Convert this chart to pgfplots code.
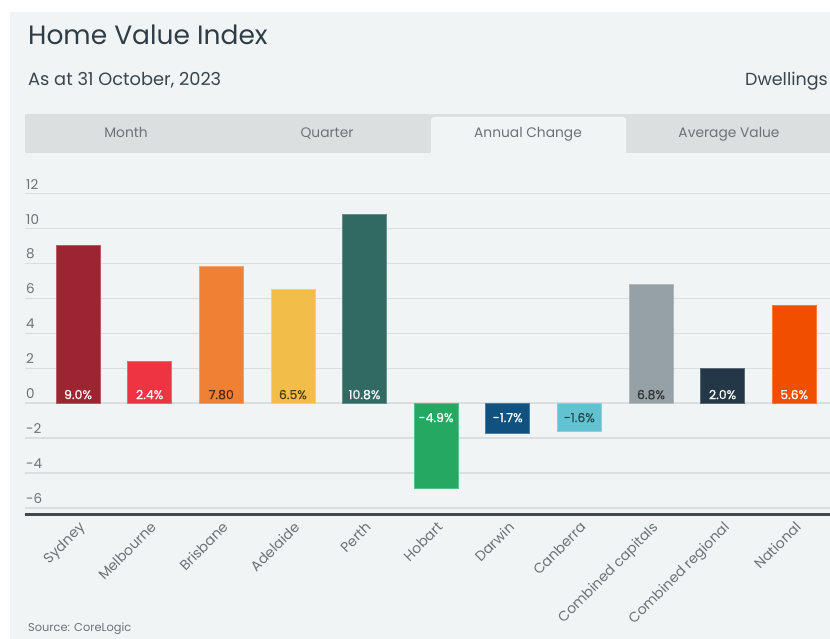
\documentclass[border=0pt]{standalone}
\usepackage{fontspec}
\setmainfont{Poppins}
\newfontfamily\pmed{Poppins}[FakeBold=0.7]
\usepackage{pgfplots}
\pgfplotsset{compat=1.18}
\definecolor{panel}{HTML}{F0F4F4}
\definecolor{tabgray}{HTML}{DCDFE0}
\definecolor{titlec}{HTML}{2E3D47}
\definecolor{subc}{HTML}{3A464C}
\definecolor{tickc}{HTML}{6B7378}
\definecolor{gridc}{HTML}{D9DFE1}
\definecolor{axisc}{HTML}{3E4A50}
\definecolor{c0}{HTML}{9B2632}
\definecolor{c1}{HTML}{EE3342}
\definecolor{c2}{HTML}{F08034}
\definecolor{c3}{HTML}{F2BE47}
\definecolor{c4}{HTML}{316A63}
\definecolor{c5}{HTML}{25A862}
\definecolor{c6}{HTML}{11517F}
\definecolor{c7}{HTML}{63C2D1}
\definecolor{c8}{HTML}{96A1A5}
\definecolor{c9}{HTML}{243746}
\definecolor{c10}{HTML}{F14E00}
\newcommand{\barlab}{\pmed\fontsize{12.5}{14}\selectfont}
\begin{document}
\begin{tikzpicture}
\useasboundingbox (0,0) rectangle (830pt,639pt);
\fill[white] (0,0) rectangle (830pt,639pt);
\fill[panel] (10pt,0) rectangle (830pt,627pt);
\node[anchor=base west, inner sep=0pt, font=\fontsize{26.5}{30}\selectfont, text=titlec] at (28pt,594pt) {Home Value Index};
\node[anchor=base west, inner sep=0pt, font=\fontsize{17.8}{20}\selectfont, text=subc] at (28pt,553pt) {As at 31 October, 2023};
\node[anchor=base east, inner sep=0pt, font=\fontsize{17.5}{20}\selectfont, text=subc] at (828pt,553pt) {Dwellings};
\fill[tabgray] (25pt,486pt) rectangle (830pt,525pt);
\fill[panel] (431pt,486pt) [rounded corners=3pt] -- (431pt,522pt) -- (626pt,522pt) [sharp corners] -- (626pt,486pt) -- cycle;
\foreach \xx/\tt in {126/Month,327/Quarter,528/Annual Change,729/Average Value}
  \node[anchor=base, inner sep=0pt, font=\fontsize{13.8}{16}\selectfont, text=tickc] at (\xx pt,501pt) {\tt};
\node[anchor=base west, inner sep=0pt, font=\fontsize{11.4}{13}\selectfont, text=tickc] at (28pt,7pt) {Source: CoreLogic};
\begin{axis}[
  at={(25pt,124pt)}, anchor=south west, scale only axis,
  width=805pt, height=321.7pt,
  xmin=-0.74, xmax=10.5, ymin=-6.4, ymax=12,
  axis x line*=bottom, axis y line*=left,
  y axis line style={draw=none},
  x axis line style={draw=axisc, line width=3pt, -},
  major tick length=0pt,
  ytick={-6,-4,...,12},
  ymajorgrids, grid style={gridc, line width=1.2pt},
  /pgf/number format/assume math mode=true,
  yticklabel style={anchor=south west, inner sep=0pt, xshift=1pt, yshift=4pt, font=\fontsize{13.5}{15}\selectfont, text=tickc},
  xtick={0,...,10},
  xticklabels={Sydney,Melbourne,Brisbane,Adelaide,Perth,Hobart,Darwin,Canberra,Combined capitals,Combined regional,National},
  xticklabel style={rotate=45, anchor=north east, inner sep=1pt, xshift=-3pt, yshift=-3pt, font=\fontsize{14}{16}\selectfont, text=tickc},
  clip=false,
]
\addplot[ybar, bar width=44pt, bar shift=0pt, fill=c0, draw=c0!75!white, line width=0.6pt] coordinates {(0,9.0)};
\addplot[ybar, bar width=44pt, bar shift=0pt, fill=c1, draw=c1!75!white, line width=0.6pt] coordinates {(1,2.4)};
\addplot[ybar, bar width=44pt, bar shift=0pt, fill=c2, draw=c2!75!white, line width=0.6pt] coordinates {(2,7.8)};
\addplot[ybar, bar width=44pt, bar shift=0pt, fill=c3, draw=c3!75!white, line width=0.6pt] coordinates {(3,6.5)};
\addplot[ybar, bar width=44pt, bar shift=0pt, fill=c4, draw=c4!75!white, line width=0.6pt] coordinates {(4,10.8)};
\addplot[ybar, bar width=44pt, bar shift=0pt, fill=c5, draw=c5!75!white, line width=0.6pt] coordinates {(5,-4.9)};
\addplot[ybar, bar width=44pt, bar shift=0pt, fill=c6, draw=c6!75!white, line width=0.6pt] coordinates {(6,-1.7)};
\addplot[ybar, bar width=44pt, bar shift=0pt, fill=c7, draw=c7!75!white, line width=0.6pt] coordinates {(7,-1.6)};
\addplot[ybar, bar width=44pt, bar shift=0pt, fill=c8, draw=c8!75!white, line width=0.6pt] coordinates {(8,6.8)};
\addplot[ybar, bar width=44pt, bar shift=0pt, fill=c9, draw=c9!75!white, line width=0.6pt] coordinates {(9,2.0)};
\addplot[ybar, bar width=44pt, bar shift=0pt, fill=c10, draw=c10!75!white, line width=0.6pt] coordinates {(10,5.6)};
% value labels
\addplot[draw=none, mark=none, point meta=explicit symbolic, nodes near coords,
  every node near coord/.append style={anchor=base, yshift=4pt, inner sep=0pt, text=white, font=\barlab}]
  coordinates {(0,0)[9.0\%] (1,0)[2.4\%] (4,0)[10.8\%] (9,0)[2.0\%] (10,0)[5.6\%]};
\addplot[draw=none, mark=none, point meta=explicit symbolic, nodes near coords,
  every node near coord/.append style={anchor=base, yshift=4pt, inner sep=0pt, text=black, text opacity=0.6, font=\barlab}]
  coordinates {(2,0)[7.80] (3,0)[6.5\%] (8,0)[6.8\%]};
\addplot[draw=none, mark=none, point meta=explicit symbolic, nodes near coords,
  every node near coord/.append style={anchor=base, yshift=-19pt, inner sep=0pt, text=white, font=\barlab}]
  coordinates {(5,0)[-4.9\%] (6,0)[-1.7\%]};
\addplot[draw=none, mark=none, point meta=explicit symbolic, nodes near coords,
  every node near coord/.append style={anchor=base, yshift=-19pt, inner sep=0pt, text=black, text opacity=0.55, font=\barlab}]
  coordinates {(7,0)[-1.6\%]};
\end{axis}
\end{tikzpicture}
\end{document}
